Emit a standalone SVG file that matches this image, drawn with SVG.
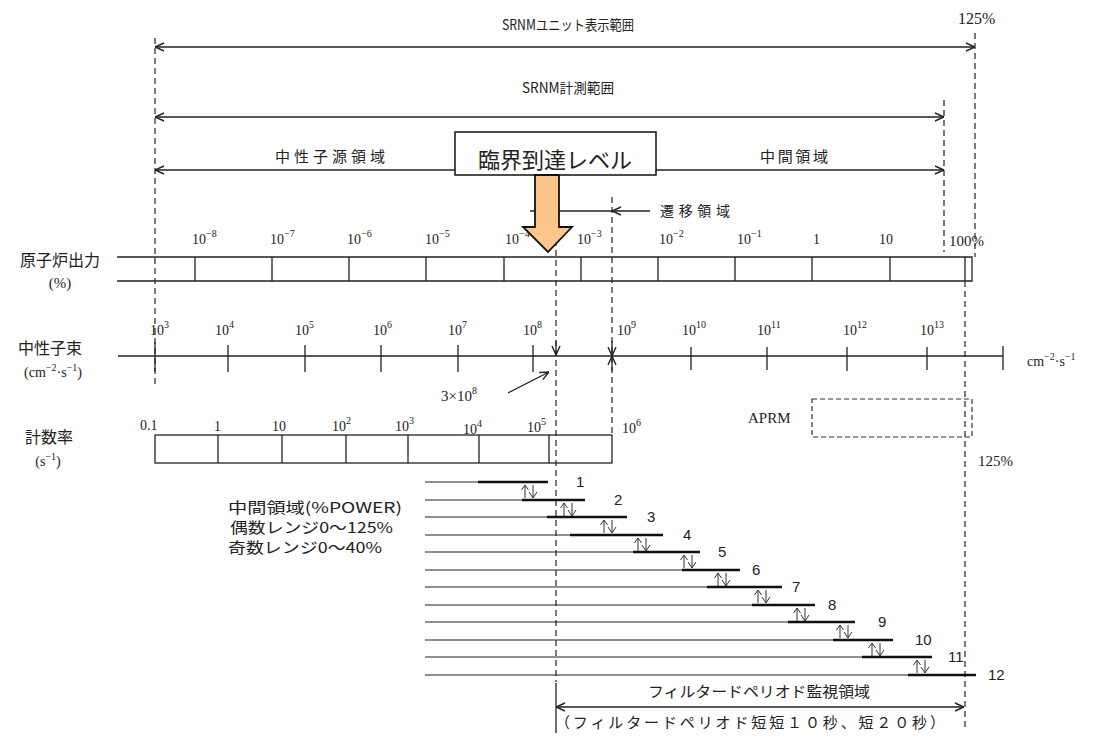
<svg xmlns="http://www.w3.org/2000/svg" xmlns:xlink="http://www.w3.org/1999/xlink" width="1095" height="738" viewBox="0 0 1095 738">
<style>
.ln{stroke:#222;stroke-width:1.3;fill:none}
.thin{stroke:#222;stroke-width:1.1;fill:none}
.thick{stroke:#111;stroke-width:2.4;fill:none}
.dash{stroke:#333;stroke-width:1.3;stroke-dasharray:6 4;fill:none}
.jp{font-family:"Noto Sans CJK JP","Noto Sans",sans-serif;fill:#222}
.num{font-family:"Liberation Serif",serif;fill:#222}
.sans{font-family:"Liberation Sans",sans-serif;fill:#222}
.ud{stroke:#333;stroke-width:1;fill:none}
</style>
<defs>
<marker id="ah" viewBox="0 0 10 10" refX="10" refY="5" markerWidth="10" markerHeight="10" markerUnits="userSpaceOnUse" orient="auto-start-reverse">
<path d="M1,1 L10,5 L1,9" fill="none" stroke="#222" stroke-width="1.4"/>
</marker>
<g id="ud">
<path class="ud" d="M-4,16 V3 M-7.5,8 L-4,3 L-0.5,8"/>
<path class="ud" d="M4,3 V16 M0,10 L4,16 L8,10"/>
</g>
</defs>
<rect width="1095" height="738" fill="#fff"/>

<g id="guides">
<line class="dash" x1="155" y1="38" x2="155" y2="385"/>
<line class="dash" x1="975" y1="33" x2="975" y2="257"/>
<line class="dash" x1="944" y1="100" x2="944" y2="252"/>
<line class="dash" x1="612" y1="197" x2="612" y2="435"/>
<line class="dash" x1="556" y1="240" x2="556" y2="682"/>
<line class="dash" x1="965" y1="281" x2="965" y2="730"/>
</g>

<g id="connectors">
<line class="ln" x1="155" y1="47" x2="975" y2="47" marker-start="url(#ah)" marker-end="url(#ah)"/>
<line class="ln" x1="155" y1="117" x2="944" y2="117" marker-start="url(#ah)" marker-end="url(#ah)"/>
<line class="ln" x1="455" y1="170" x2="155" y2="170" marker-end="url(#ah)"/>
<line class="ln" x1="656" y1="170" x2="944" y2="170" marker-end="url(#ah)"/>
<line class="ln" x1="530" y1="211" x2="612" y2="211"/>
<line class="ln" x1="650" y1="211" x2="612" y2="211" marker-end="url(#ah)"/>
<line class="ln" x1="508" y1="393" x2="549" y2="372" marker-end="url(#ah)"/>
<line class="ln" x1="556" y1="341" x2="556" y2="355" marker-end="url(#ah)"/>
<line class="ln" x1="612" y1="341" x2="612" y2="356" marker-end="url(#ah)"/>
<line class="ln" x1="612" y1="371" x2="612" y2="356" marker-end="url(#ah)"/>
<line class="ln" x1="556" y1="683" x2="556" y2="733"/>
<line class="ln" x1="556" y1="707" x2="964" y2="707" marker-start="url(#ah)" marker-end="url(#ah)"/>
</g>

<g id="range-unit">
<text class="jp" x="568" y="30" font-size="14" text-anchor="middle" textLength="132" lengthAdjust="spacingAndGlyphs">SRNMユニット表示範囲</text>
<text class="num" x="958" y="24" font-size="16">125%</text>
</g>
<g id="range-measure">
<text class="jp" x="568" y="93" font-size="14" text-anchor="middle" textLength="92" lengthAdjust="spacingAndGlyphs">SRNM計測範囲</text>
</g>
<g id="region-source">
<text class="jp" x="330" y="162" font-size="15" text-anchor="middle" textLength="110" lengthAdjust="spacing">中性子源領域</text>
</g>
<g id="region-intermediate">
<text class="jp" x="794" y="162" font-size="15" text-anchor="middle" textLength="68" lengthAdjust="spacing">中間領域</text>
</g>
<g id="region-transition">
<text class="jp" x="660" y="216" font-size="14" textLength="70" lengthAdjust="spacing">遷移領域</text>
</g>

<g id="power-axis">
<text class="jp" x="60" y="266" font-size="16" text-anchor="middle">原子炉出力</text>
<text class="num" x="60" y="288" font-size="15" text-anchor="middle">(%)</text>
<path class="ln" d="M117,257 H972 V281 H117"/>
<path class="ln" d="M195,257 V281 M272,257 V281 M349,257 V281 M426,257 V281 M504,257 V281 M581,257 V281 M658,257 V281 M735,257 V281 M812,257 V281 M890,257 V281 M965,257 V281"/>
<g class="num" font-size="14">
<text x="192" y="244">10<tspan dy="-7" font-size="10">−8</tspan></text>
<text x="270" y="244">10<tspan dy="-7" font-size="10">−7</tspan></text>
<text x="347" y="244">10<tspan dy="-7" font-size="10">−6</tspan></text>
<text x="425" y="244">10<tspan dy="-7" font-size="10">−5</tspan></text>
<text x="505" y="244">10<tspan dy="-7" font-size="10">−4</tspan></text>
<text x="577" y="244">10<tspan dy="-7" font-size="10">−3</tspan></text>
<text x="659" y="244">10<tspan dy="-7" font-size="10">−2</tspan></text>
<text x="737" y="244">10<tspan dy="-7" font-size="10">−1</tspan></text>
<text x="813" y="244">1</text>
<text x="879" y="244">10</text>
<text x="949" y="246" font-size="15">100%</text>
</g>
</g>

<g id="critical-level">
<rect x="455" y="132" width="201" height="43" fill="#fff" stroke="#111" stroke-width="1.5"/>
<text class="jp" x="478" y="168" font-size="22">臨界到達レベル</text>
<polygon points="535,175 559,175 559,227 572,227 548,252 523,227 535,227" fill="#FCC58C" stroke="#111" stroke-width="1.8"/>
</g>

<g id="flux-axis">
<text class="jp" x="50" y="354" font-size="16" text-anchor="middle">中性子束</text>
<text class="num" x="53" y="377" font-size="14" text-anchor="middle">(cm<tspan dy="-6" font-size="10">−2</tspan><tspan dy="6">·s</tspan><tspan dy="-6" font-size="10">−1</tspan><tspan dy="6">)</tspan></text>
<line class="ln" x1="118" y1="356" x2="1003" y2="356"/>
<path class="ln" d="M155,342 V372 M228,345 V372 M305,345 V372 M381,345 V372 M458,345 V372 M533,345 V372 M691,347 V370 M767,347 V370 M847,347 V371 M927,347 V370 M1003,346 V370"/>
<g class="num" font-size="14">
<text x="150" y="335">10<tspan dy="-7" font-size="10">3</tspan></text>
<text x="215" y="335">10<tspan dy="-7" font-size="10">4</tspan></text>
<text x="295" y="335">10<tspan dy="-7" font-size="10">5</tspan></text>
<text x="373" y="335">10<tspan dy="-7" font-size="10">6</tspan></text>
<text x="448" y="335">10<tspan dy="-7" font-size="10">7</tspan></text>
<text x="523" y="335">10<tspan dy="-7" font-size="10">8</tspan></text>
<text x="617" y="335">10<tspan dy="-7" font-size="10">9</tspan></text>
<text x="682" y="335">10<tspan dy="-7" font-size="10">10</tspan></text>
<text x="757" y="335">10<tspan dy="-7" font-size="10">11</tspan></text>
<text x="843" y="335">10<tspan dy="-7" font-size="10">12</tspan></text>
<text x="920" y="335">10<tspan dy="-7" font-size="10">13</tspan></text>
</g>
<text class="num" x="1027" y="366" font-size="14">cm<tspan dy="-6" font-size="10">−2</tspan><tspan dy="6">·s</tspan><tspan dy="-6" font-size="10">−1</tspan></text>
<text class="num" x="441" y="401" font-size="15">3×10<tspan dy="-7" font-size="10">8</tspan></text>
</g>

<g id="count-axis">
<text class="jp" x="49" y="443" font-size="16" text-anchor="middle">計数率</text>
<text class="num" x="48" y="466" font-size="14" text-anchor="middle">(s<tspan dy="-6" font-size="10">−1</tspan><tspan dy="6">)</tspan></text>
<rect class="ln" x="155" y="435" width="457" height="28"/>
<path class="ln" d="M218,435 V463 M282,435 V463 M346,435 V463 M408,435 V463 M479,435 V463 M549,435 V463"/>
<g class="num" font-size="14">
<text x="140" y="430">0.1</text>
<text x="214" y="431">1</text>
<text x="272" y="431">10</text>
<text x="332" y="431">10<tspan dy="-7" font-size="10">2</tspan></text>
<text x="395" y="431">10<tspan dy="-7" font-size="10">3</tspan></text>
<text x="463" y="434">10<tspan dy="-7" font-size="10">4</tspan></text>
<text x="527" y="432">10<tspan dy="-7" font-size="10">5</tspan></text>
<text x="622" y="433">10<tspan dy="-7" font-size="10">6</tspan></text>
</g>
</g>

<g id="aprm">
<rect x="812" y="399" width="160" height="38" fill="none" stroke="#333" stroke-width="1.2" stroke-dasharray="5 3"/>
<text class="num" x="748" y="423" font-size="15">APRM</text>
<text class="num" x="978" y="466" font-size="15">125%</text>
</g>

<g id="range-ladder">
<g class="jp" font-size="15">
<text x="228" y="513" textLength="174" lengthAdjust="spacingAndGlyphs">中間領域(%POWER)</text>
<text x="230" y="533" textLength="163" lengthAdjust="spacingAndGlyphs">偶数レンジ0〜125%</text>
<text x="228" y="553" textLength="154" lengthAdjust="spacingAndGlyphs">奇数レンジ0〜40%</text>
</g>
<path class="thin" d="M425,482 H478 M425,500 H522 M425,517 H547 M425,535 H570 M425,552 H633 M425,570 H682 M425,587 H707 M425,605 H752 M425,622 H788 M425,640 H833 M425,657 H862 M425,675 H908"/>
<path class="thick" d="M478,482 H548 M522,500 H585 M547,517 H627 M570,535 H663 M633,552 H700 M682,570 H740 M707,587 H782 M752,605 H815 M788,622 H855 M833,640 H893 M862,657 H932 M908,675 H976"/>
<use xlink:href="#ud" x="529" y="482"/>
<use xlink:href="#ud" x="568" y="500"/>
<use xlink:href="#ud" x="608" y="517"/>
<use xlink:href="#ud" x="642" y="535"/>
<use xlink:href="#ud" x="688" y="552"/>
<use xlink:href="#ud" x="722" y="570"/>
<use xlink:href="#ud" x="762" y="587"/>
<use xlink:href="#ud" x="801" y="605"/>
<use xlink:href="#ud" x="844" y="622"/>
<use xlink:href="#ud" x="876" y="640"/>
<use xlink:href="#ud" x="921" y="657"/>
<g class="sans" font-size="15">
<text x="576" y="487">1</text>
<text x="614" y="505">2</text>
<text x="647" y="522">3</text>
<text x="683" y="540">4</text>
<text x="718" y="557">5</text>
<text x="752" y="575">6</text>
<text x="792" y="592">7</text>
<text x="828" y="610">8</text>
<text x="878" y="627">9</text>
<text x="915" y="645">10</text>
<text x="948" y="662">11</text>
<text x="988" y="680">12</text>
</g>
</g>

<g id="filtered-period">
<text class="jp" x="648" y="697" font-size="15" textLength="222" lengthAdjust="spacingAndGlyphs">フィルタードペリオド監視領域</text>
<text class="jp" x="555" y="728" font-size="15" textLength="390" lengthAdjust="spacing">（フィルタードペリオド短短１０秒、短２０秒）</text>
</g>
</svg>
